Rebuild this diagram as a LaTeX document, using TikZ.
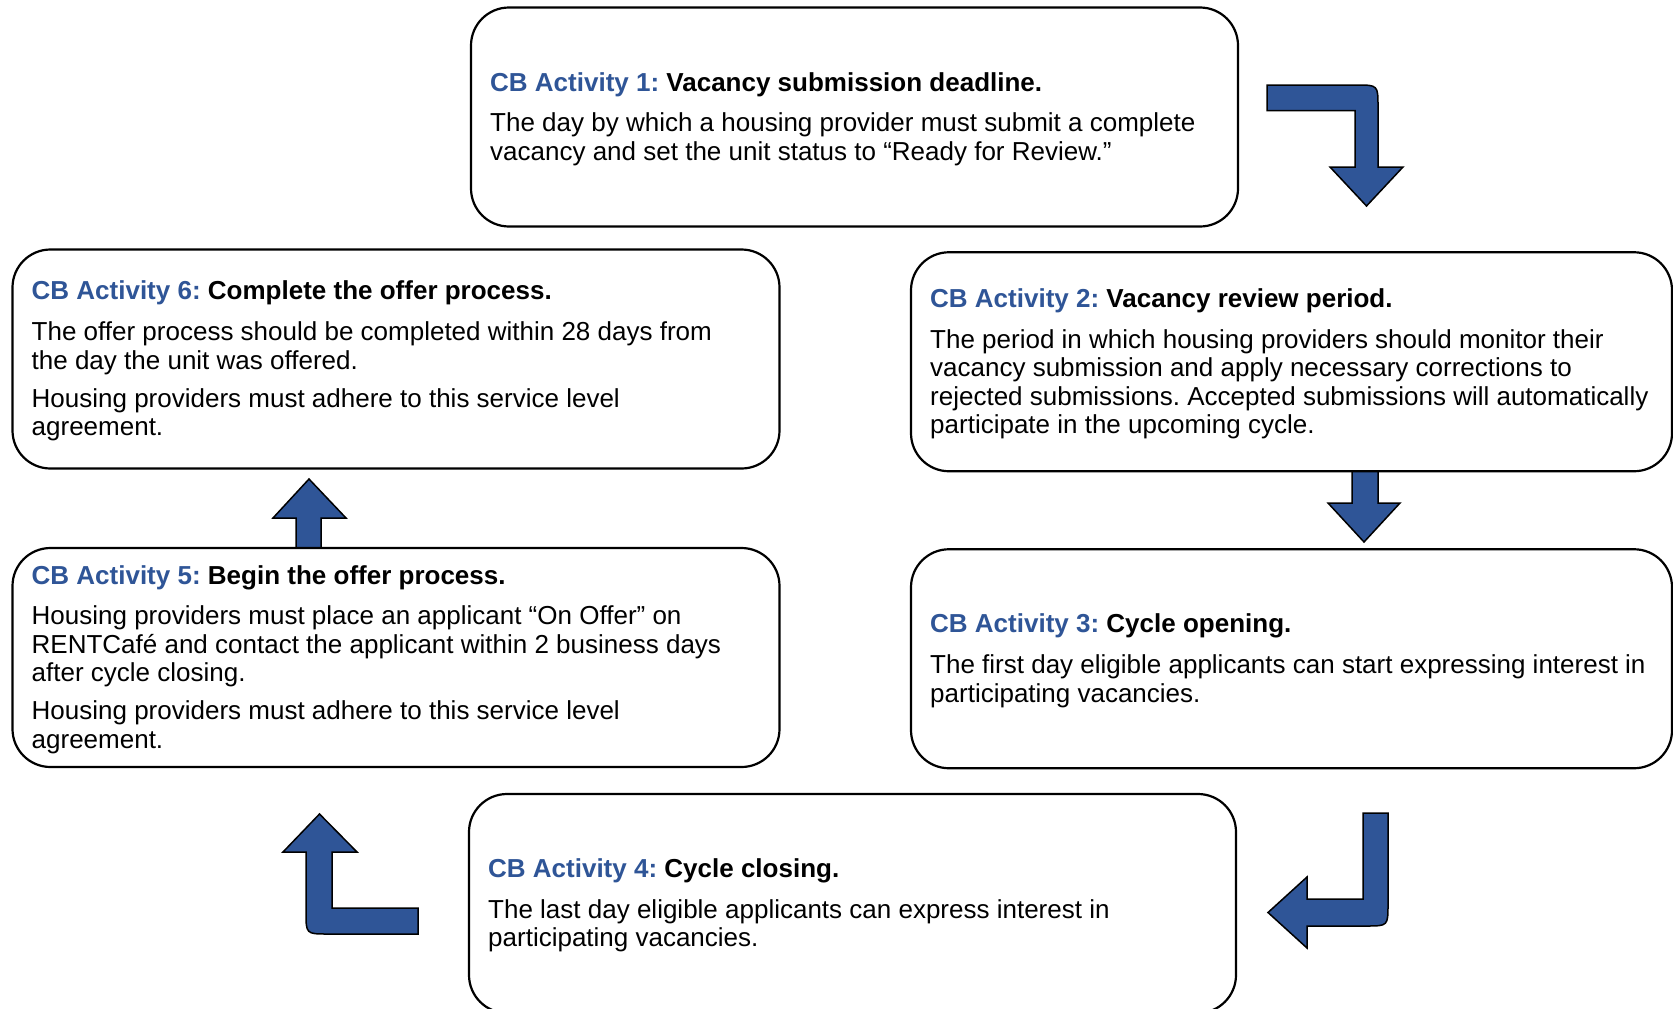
\documentclass[tikz,border=0pt]{standalone}
\usepackage{fontspec}
\setmainfont{Liberation Sans}
\frenchspacing
\definecolor{cbblue}{RGB}{47,85,151}
\tikzset{
  box/.style={draw=black, line width=2.2pt, fill=white, rounded corners=38pt,
    minimum width=767pt, minimum height=219pt, inner sep=0pt, outer sep=0pt},
  rbox/.style={box, minimum width=761pt},
  txt/.style={anchor=west, align=left, inner sep=0pt, font=\fontsize{26}{28.5}\selectfont\frenchspacing},
  blockarrow/.style={fill=cbblue, draw=black, line width=1.5pt, line join=miter},
}
\newcommand{\cbtitle}[2]{{\bfseries\color{cbblue}CB Activity #1:} \textbf{#2}}
\begin{document}
\begin{tikzpicture}[x=1pt,y=-1pt]
\useasboundingbox (0,0) rectangle (1673,1009);
\clip (0,0) rectangle (1673,1009);

% block arrows
\draw[blockarrow] (1267,85) -- (1356,85) .. controls (1378,85) .. (1378,107) -- (1378,167) -- (1403,167) -- (1366.5,206) -- (1330,167) -- (1355,167) -- (1355,110.7) -- (1267,110.7) -- cycle;
\draw[blockarrow] (1352,460) -- (1352,503) -- (1328,503) -- (1364,542) -- (1400,503) -- (1378,503) -- (1378,460) -- cycle;
\draw[blockarrow] (1363,813) -- (1388,813) -- (1388,904) .. controls (1388,926) .. (1366,926) -- (1307,926) -- (1307,948) -- (1268,912.5) -- (1307,877) -- (1307,899) -- (1363,899) -- cycle;
\draw[blockarrow] (418,908) -- (418,934) -- (328,934) .. controls (306,934) .. (306,912) -- (306,852) -- (283,852) -- (319.5,814) -- (357,852) -- (332,852) -- (332,908) -- cycle;
\draw[blockarrow] (296,560) -- (296,518) -- (273,518) -- (309,479) -- (346,518) -- (321,518) -- (321,560) -- cycle;

% boxes
\node[box] (b1) at (854.5,117) {};
\node[rbox] (b2) at (1291.5,361.75) {};
\node[rbox] (b3) at (1291.5,658.75) {};
\node[box] (b4) at (852.5,903.5) {};
\node[box] (b5) at (396,657.5) {};
\node[box] (b6) at (396,359) {};

% texts
\node[txt] (t1) at ([xshift=19pt,yshift=-2pt]b1.west) {\cbtitle{1}{Vacancy submission deadline.}\\[12.2pt]
The day by which a housing provider must submit a complete\\
vacancy and set the unit status to “Ready for Review.”};
\node[txt] (t2) at ([xshift=19pt,yshift=-2pt]b2.west) {\cbtitle{2}{Vacancy review period.}\\[12.2pt]
The period in which housing providers should monitor their\\
vacancy submission and apply necessary corrections to\\
rejected submissions. Accepted submissions will automatically\\
participate in the upcoming cycle.};
\node[txt] (t3) at ([xshift=19pt,yshift=-2pt]b3.west) {\cbtitle{3}{Cycle opening.}\\[12.2pt]
The first day eligible applicants can start expressing interest in\\
participating vacancies.};
\node[txt] (t4) at ([xshift=19pt,yshift=-2pt]b4.west) {\cbtitle{4}{Cycle closing.}\\[12.2pt]
The last day eligible applicants can express interest in\\
participating vacancies.};
\node[txt] (t5) at ([xshift=19pt,yshift=-2pt]b5.west) {\cbtitle{5}{Begin the offer process.}\\[12.2pt]
Housing providers must place an applicant “On Offer” on\\
RENTCafé and contact the applicant within 2 business days\\
after cycle closing.\\[9.5pt]
Housing providers must adhere to this service level\\
agreement.};
\node[txt] (t6) at ([xshift=19pt,yshift=-2pt]b6.west) {\cbtitle{6}{Complete the offer process.}\\[12.2pt]
The offer process should be completed within 28 days from\\
the day the unit was offered.\\[9.5pt]
Housing providers must adhere to this service level\\
agreement.};
\end{tikzpicture}
\end{document}
